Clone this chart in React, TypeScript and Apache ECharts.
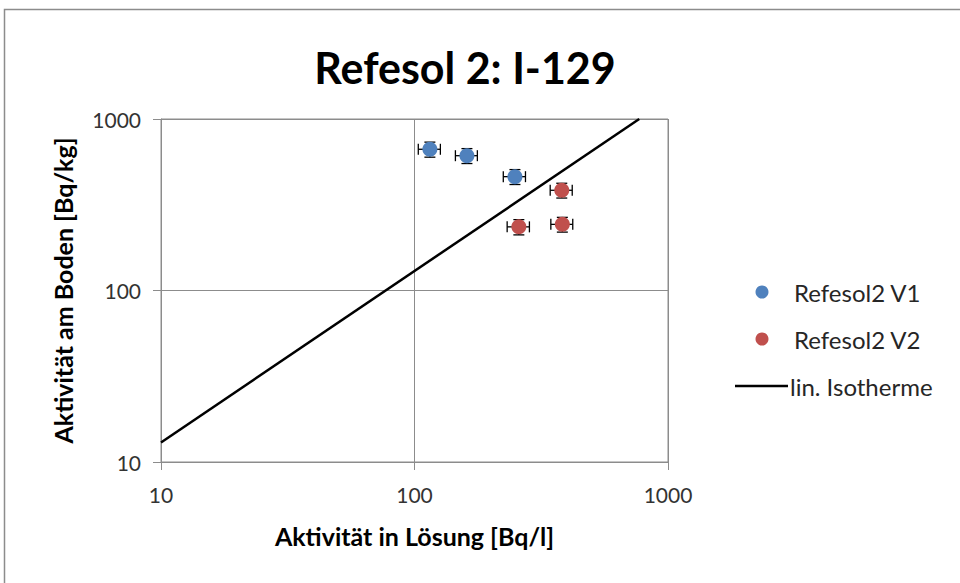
import React, { useEffect, useRef } from "react";
import * as echarts from "echarts";

const seriesNames = ["Refesol2 V1", "Refesol2 V2", "lin. Isotherme"];

// Refesol2 V1 – activity in solution [Bq/l] vs. on soil [Bq/kg]
const v1X = [115, 161, 249];
const v1Y = [666, 611, 461];
const v1XErr = [11.5, 16, 25];
const v1YErr = [67, 61, 46];

// Refesol2 V2
const v2X = [381, 258, 383];
const v2Y = [384, 235, 243];
const v2XErr = [38, 26, 38];
const v2YErr = [38, 24, 24];

// linear isotherm
const isoX = [10, 770];
const isoY = [13, 1000];

const colors = ["#4F81BD", "#C0504D", "#000000"];
const FONT = "Lato";

function pts(xs: number[], ys: number[]) {
  return xs.map((x, i) => [x, ys[i]]);
}
function errPts(xs: number[], ys: number[], xe: number[], ye: number[]) {
  return xs.map((x, i) => [x, ys[i], xe[i], ye[i]]);
}

const errorRender = (params: any, api: any) => {
  const x = api.value(0);
  const y = api.value(1);
  const xe = api.value(2);
  const ye = api.value(3);
  const c = api.coord([x, y]);
  const l = api.coord([x - xe, y]);
  const r = api.coord([x + xe, y]);
  const t = api.coord([x, y + ye]);
  const b = api.coord([x, y - ye]);
  const cap = 5.5;
  const style = { stroke: "#000", lineWidth: 1.3 };
  return {
    type: "group",
    children: [
      { type: "line", shape: { x1: l[0], y1: c[1], x2: r[0], y2: c[1] }, style },
      { type: "line", shape: { x1: l[0], y1: c[1] - cap, x2: l[0], y2: c[1] + cap }, style },
      { type: "line", shape: { x1: r[0], y1: c[1] - cap, x2: r[0], y2: c[1] + cap }, style },
      { type: "line", shape: { x1: c[0], y1: t[1], x2: c[0], y2: b[1] }, style },
      { type: "line", shape: { x1: c[0] - cap, y1: t[1], x2: c[0] + cap, y2: t[1] }, style },
      { type: "line", shape: { x1: c[0] - cap, y1: b[1], x2: c[0] + cap, y2: b[1] }, style },
    ],
  };
};

export default function App() {
  const ref = useRef<HTMLDivElement>(null);
  useEffect(() => {
    if (!ref.current) return;
    const chart = echarts.init(ref.current, undefined, { renderer: "svg" });
    const legendX = 762;
    const legendY = [292, 339, 386];
    const textStyleBase = { fontFamily: FONT, fontSize: 24, fill: "#262626" };
    const tickFmt = (v: number) => String(Math.round(v));
    chart.setOption({
      animation: false,
      backgroundColor: "#ffffff",
      title: {
        text: "Refesol 2: I-129",
        left: 460,
        top: 41,
        textAlign: "center",
        textStyle: { fontFamily: FONT, fontSize: 43, fontWeight: "bold", color: "#000" },
      },
      grid: {
        left: 161,
        top: 119,
        right: 292,
        bottom: 121,
        show: true,
        borderColor: "#8c8c8c",
        borderWidth: 1,
      },
      xAxis: {
        type: "log",
        logBase: 10,
        min: 10,
        max: 1000,
        name: "Aktivität in Lösung [Bq/l]",
        nameLocation: "middle",
        nameGap: 61,
        nameTextStyle: { fontFamily: FONT, fontSize: 25, fontWeight: "bold", color: "#000" },
        axisLine: { show: true, lineStyle: { color: "#8c8c8c" } },
        axisTick: { show: true, length: 8, lineStyle: { color: "#8c8c8c" } },
        axisLabel: { fontFamily: FONT, fontSize: 21, color: "#333", margin: 22, formatter: tickFmt },
        splitLine: { show: true, lineStyle: { color: "#8c8c8c" } },
        minorTick: { show: false },
      },
      yAxis: {
        type: "log",
        logBase: 10,
        min: 10,
        max: 1000,
        name: "Aktivität am Boden [Bq/kg]",
        nameLocation: "middle",
        nameGap: 86,
        nameTextStyle: { fontFamily: FONT, fontSize: 25, fontWeight: "bold", color: "#000" },
        axisLine: { show: true, lineStyle: { color: "#8c8c8c" } },
        axisTick: { show: true, length: 8, lineStyle: { color: "#8c8c8c" } },
        axisLabel: { fontFamily: FONT, fontSize: 21, color: "#333", margin: 20, formatter: tickFmt },
        splitLine: { show: true, lineStyle: { color: "#8c8c8c" } },
        minorTick: { show: false },
      },
      series: [
        {
          type: "custom",
          name: seriesNames[0] + " err",
          renderItem: errorRender,
          data: errPts(v1X, v1Y, v1XErr, v1YErr),
          encode: { x: 0, y: 1 },
          z: 2,
          silent: true,
        },
        {
          type: "custom",
          name: seriesNames[1] + " err",
          renderItem: errorRender,
          data: errPts(v2X, v2Y, v2XErr, v2YErr),
          encode: { x: 0, y: 1 },
          z: 2,
          silent: true,
        },
        {
          type: "scatter",
          name: seriesNames[0],
          data: pts(v1X, v1Y),
          symbol: "circle",
          symbolSize: 15,
          itemStyle: { color: colors[0], opacity: 1 },
          z: 3,
        },
        {
          type: "scatter",
          name: seriesNames[1],
          data: pts(v2X, v2Y),
          symbol: "circle",
          symbolSize: 15,
          itemStyle: { color: colors[1], opacity: 1 },
          z: 3,
        },
        {
          type: "line",
          name: seriesNames[2],
          data: pts(isoX, isoY),
          symbol: "none",
          lineStyle: { color: colors[2], width: 2.5 },
          clip: true,
          z: 4,
        },
      ],
      graphic: [
        {
          type: "rect",
          shape: { x: 4.5, y: 9.5, width: 1000, height: 1000 },
          style: { fill: "none", stroke: "#8c8c8c", lineWidth: 1.5 },
          silent: true,
        },
        {
          type: "circle",
          shape: { cx: legendX, cy: legendY[0], r: 6.5 },
          style: { fill: colors[0] },
        },
        {
          type: "text",
          x: 794,
          y: legendY[0],
          style: { ...textStyleBase, text: seriesNames[0], verticalAlign: "middle" },
        },
        {
          type: "circle",
          shape: { cx: legendX, cy: legendY[1], r: 6.5 },
          style: { fill: colors[1] },
        },
        {
          type: "text",
          x: 794,
          y: legendY[1],
          style: { ...textStyleBase, text: seriesNames[1], verticalAlign: "middle" },
        },
        {
          type: "line",
          shape: { x1: 735, y1: legendY[2], x2: 788, y2: legendY[2] },
          style: { stroke: colors[2], lineWidth: 2.5 },
        },
        {
          type: "text",
          x: 790,
          y: legendY[2],
          style: { ...textStyleBase, text: seriesNames[2], verticalAlign: "middle" },
        },
      ],
    });
    return () => chart.dispose();
  }, []);
  return (
    <div
      ref={ref}
      style={{ position: "fixed", left: 0, top: 0, width: 960, height: 583, background: "#fff" }}
    />
  );
}
